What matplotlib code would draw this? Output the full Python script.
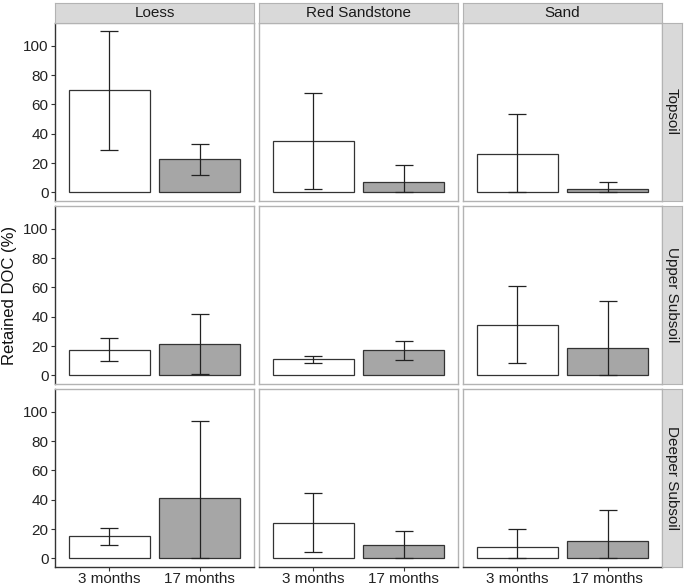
import numpy as np
import matplotlib
matplotlib.use("Agg")
import matplotlib.pyplot as plt

plt.rcParams['font.family'] = ['Liberation Sans', 'DejaVu Sans']

soils = ["Loess", "Red Sandstone", "Sand"]
depths = ["Topsoil", "Upper Subsoil", "Deeper Subsoil"]
times = ["3 months", "17 months"]

# mean retained DOC, rows = depth, cols = soil, pairs = (3 months, 17 months)
mean = np.array([
    [[69.5, 22.5], [34.9, 7.0], [26.1, 2.3]],
    [[17.6, 21.2], [11.3, 17.1], [34.5, 18.7]],
    [[15.0, 41.3], [24.3, 9.0], [7.7, 12.0]],
])
lower = np.array([
    [[28.8, 12.0], [2.0, 0.0], [0.0, 0.0]],
    [[9.9, 0.9], [8.6, 10.6], [8.3, 0.0]],
    [[9.3, 0.0], [4.1, 0.0], [0.0, 0.0]],
])
upper = np.array([
    [[110.0, 33.3], [67.6, 19.0], [53.3, 7.0]],
    [[25.3, 42.0], [13.5, 23.7], [60.7, 51.0]],
    [[20.9, 93.9], [44.7, 18.4], [20.2, 33.3]],
])
fills = ["white", "#a6a6a6"]

W, H = 685, 585
fig = plt.figure(figsize=(W / 100, H / 100), dpi=100)

col_x = [(55, 254), (259, 458), (463, 662)]
row_y = [(23, 200.5), (206, 383.5), (389, 566.5)]
border = "#b3b3b3"
dark = "#333333"

def frac(x0, y0, x1, y1):
    return [x0 / W, 1 - y1 / H, (x1 - x0) / W, (y1 - y0) / H]

for i, depth in enumerate(depths):
    for j, soil in enumerate(soils):
        x0, x1 = col_x[j]
        y0, y1 = row_y[i]
        ax = fig.add_axes(frac(x0, y0, x1, y1))
        xs = np.arange(1, 3)
        ax.bar(xs, mean[i, j], width=0.9, color=fills, edgecolor=dark, linewidth=0.9, zorder=2)
        yerr = np.vstack([mean[i, j] - lower[i, j], upper[i, j] - mean[i, j]])
        ax.errorbar(xs, mean[i, j], yerr=yerr, fmt="none", ecolor="#222222",
                    elinewidth=0.9, capsize=6.2, capthick=0.9, zorder=3)
        ax.set_xlim(0.4, 2.6)
        ax.set_ylim(-5.5, 115.5)
        ax.set_yticks([0, 20, 40, 60, 80, 100])
        ax.set_xticks(xs)
        for s in ax.spines.values():
            s.set_color(border)
            s.set_linewidth(1.0)
        ax.tick_params(colors=dark, labelsize=11, length=3, width=0.8, pad=1.5)
        if j == 0:
            ax.tick_params(axis="y", labelcolor="#222222")
            ax.spines["left"].set_color(dark)
        else:
            ax.set_yticklabels([])
            ax.tick_params(axis="y", length=0)
        if i == 2:
            ax.set_xticklabels(times)
            ax.tick_params(axis="x", labelcolor="#222222", pad=1)
            ax.spines["bottom"].set_color(dark)
        else:
            ax.set_xticklabels([])
            ax.tick_params(axis="x", length=0)

        if i == 0:
            sax = fig.add_axes(frac(x0, 2.5, x1, 23))
            sax.set_facecolor("#d9d9d9")
            sax.set_xticks([])
            sax.set_yticks([])
            for s in sax.spines.values():
                s.set_color(border)
            sax.text(0.5, 0.5, soil, ha="center", va="center", fontsize=11, color="#1a1a1a",
                     transform=sax.transAxes)
        if j == 2:
            rax = fig.add_axes(frac(662, y0, 682, y1))
            rax.set_facecolor("#d9d9d9")
            rax.set_xticks([])
            rax.set_yticks([])
            for s in rax.spines.values():
                s.set_color(border)
            rax.text(0.5, 0.5, depth, ha="center", va="center", fontsize=11, color="#1a1a1a",
                     rotation=-90, transform=rax.transAxes)

fig.text(10 / W, 1 - 295 / H, "Retained DOC (%)", rotation=90, ha="center", va="center",
         fontsize=12, color="#111111")

fig.savefig("out.png", dpi=100)
